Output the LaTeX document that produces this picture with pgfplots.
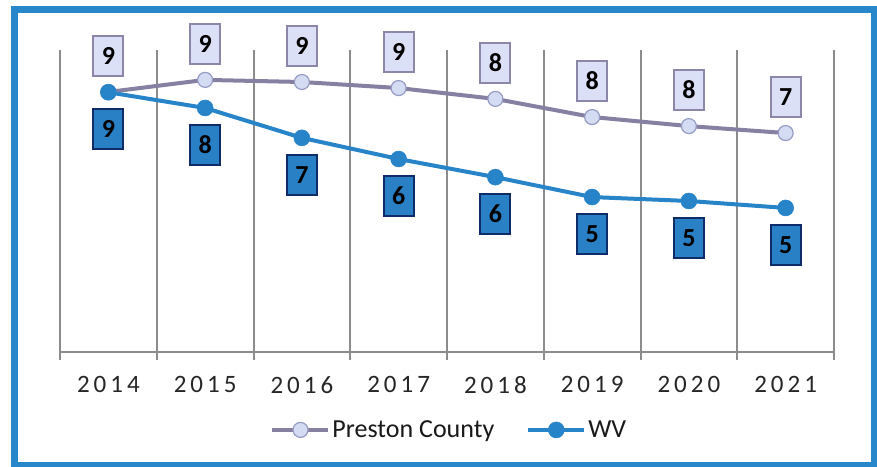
\documentclass[border=0pt]{standalone}
\usepackage{pgfplots}
\pgfplotsset{compat=1.18}
\usepackage{pgfplotstable}
\usepackage{fontspec}
\setmainfont{Carlito}
\newfontfamily\tickfont[LetterSpace=16]{Carlito}
\definecolor{wvblue}{RGB}{40,132,200}
\definecolor{frameblue}{RGB}{40,134,202}
\definecolor{prline}{RGB}{134,128,162}
\definecolor{prfill}{RGB}{212,220,243}
\definecolor{prmarkdraw}{RGB}{150,155,195}
\definecolor{prbox}{RGB}{220,224,246}
\definecolor{prboxdraw}{RGB}{140,134,168}
\definecolor{wvbox}{RGB}{42,128,196}
\definecolor{wvboxdraw}{RGB}{14,44,104}
\definecolor{gridgray}{RGB}{140,140,140}

\pgfplotstableread{
x y lab
0 8.61 9
1 9.01 9
2 8.94 9
3 8.74 9
4 8.38 8
5 7.78 8
6 7.48 8
7 7.25 7
}\prestondata

\pgfplotstableread{
x y lab
0 8.60 9
1 8.08 8
2 7.09 7
3 6.39 6
4 5.79 6
5 5.13 5
6 5.00 5
7 4.77 5
}\wvdata

\begin{document}
\begin{tikzpicture}[x=1bp,y=1bp]
\useasboundingbox (0,0) rectangle (877,467);
\fill[white] (0,0) rectangle (877,467);
\begin{axis}[
  at={(60bp,115bp)}, anchor=south west,
  scale only axis, width=774bp, height=302bp,
  xmin=-0.5, xmax=7.5, ymin=0, ymax=10,
  axis x line*=bottom, axis y line=none,
  ytick=\empty,
  xtick={0,...,7},
  xticklabels={2014,2015,2016,2017,2018,2019,2020,2021},
  major tick length=0pt,
  minor xtick={-0.5,0.5,...,7.5},
  xminorgrids,
  minor grid style={gridgray, line width=2bp},
  minor tick length=8bp,
  tick align=outside,
  tick style={gridgray, line width=2bp},
  x axis line style={gridgray, line width=2.5bp, -},
  xticklabel style={font=\tickfont\fontsize{25bp}{30bp}\selectfont, text=black!85, yshift=-21bp},
  clip=false,
  legend style={at={(0.503,-0.258)}, anchor=center, draw=none, fill=none,
    legend columns=2, font=\fontsize{26bp}{31bp}\selectfont, text=black!90,
    nodes={inner sep=2bp},
    /tikz/every even column/.append style={column sep=30bp}},
  legend image code/.code={\draw[mark repeat=2,mark phase=2,#1] plot coordinates {(0bp,0bp)(28bp,0bp)(56bp,0bp)};},
]
\addplot[prline, line width=4bp, mark=*, mark size=7.5bp,
  mark options={fill=prfill, draw=prmarkdraw, line width=1.2bp},
  point meta=explicit symbolic, nodes near coords,
  nodes near coords style={anchor=center, yshift=36bp, fill=prbox, draw=prboxdraw,
    line width=1.8bp, minimum width=30bp, minimum height=40bp, inner sep=0pt,
    text=black, font=\bfseries\fontsize{26bp}{31bp}\selectfont}]
  table[x=x, y=y, meta=lab] {\prestondata};
\addlegendentry{Preston County}
\addplot[wvblue, line width=4bp, mark=*, mark size=8bp,
  mark options={fill=wvblue, draw=wvblue, line width=0.5bp},
  point meta=explicit symbolic, nodes near coords,
  nodes near coords style={anchor=center, yshift=-37bp, fill=wvbox, draw=wvboxdraw,
    line width=2bp, minimum width=30bp, minimum height=40bp, inner sep=0pt,
    text=black, font=\bfseries\fontsize{26bp}{31bp}\selectfont}]
  table[x=x, y=y, meta=lab] {\wvdata};
\addlegendentry{WV}
\end{axis}
\draw[frameblue, line width=6.5bp] (14.5,1.5) rectangle (874,457.5);
\end{tikzpicture}
\end{document}
